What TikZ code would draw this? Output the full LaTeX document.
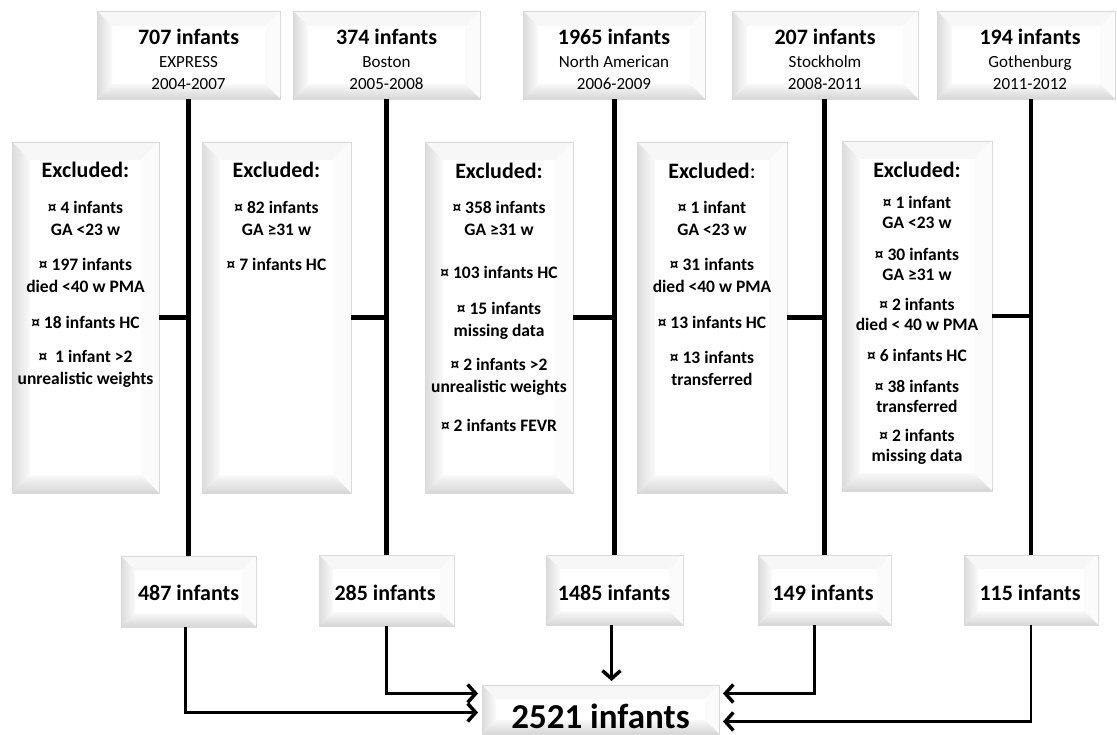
\documentclass[tikz,border=0pt]{standalone}
\usepackage{fontspec}
\setmainfont{Carlito}
\usetikzlibrary{arrows.meta,calc}
\tikzset{bev/.store in=\bevsz, bev=14pt}
\newcommand\mkbox[6]{\node[bevelbox, bev=#6pt, minimum width={(#4)-(#2)}, minimum height={(#5)-(#3)}] (#1) at ({((#2)+(#4))/2},{((#3)+(#5))/2}) {};}
\begin{document}
\begin{tikzpicture}[x=1pt,y=-1pt,
  bevelbox/.style={draw=gray!30, line width=0.9pt, fill=white, inner sep=0pt, outer sep=0pt,
    path picture={
      \fill[gray!6] let \p1=(path picture bounding box.north west), \p2=(path picture bounding box.south east) in
        (\x1,\y1) -- (\x2,\y1) -- ({\x2-\bevsz},{\y1-\bevsz}) -- ({\x1+\bevsz},{\y1-\bevsz}) -- cycle;
      \fill[gray!3] let \p1=(path picture bounding box.north west), \p2=(path picture bounding box.south east) in
        (\x2,\y1) -- (\x2,\y2) -- ({\x2-\bevsz},{\y2+\bevsz}) -- ({\x2-\bevsz},{\y1-\bevsz}) -- cycle;
      \shade[left color=gray!28, right color=gray!4] let \p1=(path picture bounding box.north west), \p2=(path picture bounding box.south east) in
        (\x1,\y1) -- ({\x1+\bevsz},{\y1-\bevsz}) -- ({\x1+\bevsz},{\y2+\bevsz}) -- (\x1,\y2) -- cycle;
      \shade[bottom color=gray!32, top color=gray!5] let \p1=(path picture bounding box.north west), \p2=(path picture bounding box.south east) in
        (\x1,\y2) -- ({\x1+\bevsz},{\y2+\bevsz}) -- ({\x2-\bevsz},{\y2+\bevsz}) -- (\x2,\y2) -- cycle;
    }},
  toptext/.style={align=center, inner sep=0pt, font=\fontsize{17}{22.5}\selectfont},
  extitle/.style={inner sep=0pt, font=\bfseries\fontsize{22}{24}\selectfont},
  exitem/.style={align=center, inner sep=0pt, font=\bfseries\fontsize{17.5}{22}\selectfont},
  exitemE/.style={align=center, inner sep=0pt, font=\bfseries\fontsize{17.5}{20}\selectfont},
  cnttext/.style={inner sep=0pt, font=\bfseries\fontsize{22}{24}\selectfont},
  fintext/.style={inner sep=0pt, font=\bfseries\fontsize{35}{38}\selectfont},
  trunk/.style={line width=4.5pt, black},
  branch/.style={line width=4.5pt, black},
  feed/.style={line width=2.5pt, black, shorten >=4pt, -{Straight Barb[length=8pt, width=18pt, line width=3.5pt]}},
]
\fill[white] (0,0) rectangle (1117,735);
\useasboundingbox (0,0) rectangle (1117,735);

% top boxes
\mkbox{t1}{97}{11}{280}{99}{15}
\mkbox{t2}{293}{11}{480}{99}{15}
\mkbox{t3}{523}{11}{705}{99}{15}
\mkbox{t4}{732}{11}{918}{99}{15}
\mkbox{t5}{937}{11}{1115}{99}{15}

% excluded boxes
\mkbox{eA}{12}{142}{159}{493}{18}
\mkbox{eB}{202}{142}{351}{493}{18}
\mkbox{eC}{425}{142}{573}{493}{18}
\mkbox{eD}{637}{142}{787}{493}{18}
\mkbox{eE}{842}{141}{992}{491}{18}

% result boxes
\mkbox{b1}{121}{556}{256}{627}{14}
\mkbox{b2}{319}{555}{454}{626}{14}
\mkbox{b3}{546}{555}{683}{625}{14}
\mkbox{b4}{758}{555}{891}{625}{14}
\mkbox{b5}{964}{555}{1098}{625}{14}
\mkbox{fin}{482}{685}{719}{734}{14}

% top texts
\node[toptext] (t1x) at (188.5,59.5) {{\bfseries\fontsize{22}{22.5}\selectfont 707 infants}\\EXPRESS\\2004-2007};
\node[toptext] (t2x) at (386.5,59.5) {{\bfseries\fontsize{22}{22.5}\selectfont 374 infants}\\Boston\\2005-2008};
\node[toptext] (t3x) at (614,59.5) {{\bfseries\fontsize{22}{22.5}\selectfont 1965 infants}\\North American\\2006-2009};
\node[toptext] (t4x) at (825,59.5) {{\bfseries\fontsize{22}{22.5}\selectfont 207 infants}\\Stockholm\\2008-2011};
\node[toptext] (t5x) at (1030,59.5) {{\bfseries\fontsize{22}{22.5}\selectfont 194 infants}\\Gothenburg\\2011-2012};

% excluded texts A
\node[extitle] (eAh) at (85.5,170) {Excluded:};
\node[exitem] (eA1) at (85.5,218) {¤ 4 infants\\GA <23 w};
\node[exitem] (eA2) at (85.5,275.5) {¤ 197 infants\\died <40 w PMA};
\node[exitem] (eA3) at (85.5,322) {¤ 18 infants HC};
\node[exitem] (eA4) at (85.5,369) {¤\ \ 1 infant >2\\unrealistic weights};
% B
\node[extitle] (eBh) at (276.5,170) {Excluded:};
\node[exitem] (eB1) at (276.5,218) {¤ 82 infants\\GA ≥31 w};
\node[exitem] (eB2) at (276.5,264) {¤ 7 infants HC};
% C
\node[extitle] (eCh) at (499,171) {Excluded:};
\node[exitem] (eC1) at (499,218) {¤ 358 infants\\GA ≥31 w};
\node[exitem] (eC2) at (499,272) {¤ 103 infants HC};
\node[exitem] (eC3) at (499,321) {¤ 15 infants\\missing data};
\node[exitem] (eC4) at (499,377) {¤ 2 infants >2\\unrealistic weights};
\node[exitem] (eC5) at (499,425) {¤ 2 infants FEVR};
% D
\node[extitle] (eDh) at (712,171) {Excluded{\mdseries :}};
\node[exitem] (eD1) at (712,218) {¤ 1 infant\\GA <23 w};
\node[exitem] (eD2) at (712,275.5) {¤ 31 infants\\died <40 w PMA};
\node[exitem] (eD3) at (712,322) {¤ 13 infants HC};
\node[exitem] (eD4) at (712,368.5) {¤ 13 infants\\transferred};
% E
\node[extitle] (eEh) at (917,170) {Excluded:};
\node[exitemE] (eE1) at (917,212) {¤ 1 infant\\GA <23 w};
\node[exitemE] (eE2) at (917,264) {¤ 30 infants\\GA ≥31 w};
\node[exitemE] (eE3) at (917,314.5) {¤ 2 infants\\died < 40 w PMA};
\node[exitemE] (eE4) at (917,355) {¤ 6 infants HC};
\node[exitemE] (eE5) at (917,396) {¤ 38 infants\\transferred};
\node[exitemE] (eE6) at (917,447) {¤ 2 infants\\missing data};

% counts
\node[cnttext] (b1x) at (188.5,593) {487 infants};
\node[cnttext] (b2x) at (385,593) {285 infants};
\node[cnttext] (b3x) at (614,593) {1485 infants};
\node[cnttext] (b4x) at (823,593) {149 infants};
\node[cnttext] (b5x) at (1030,593) {115 infants};
\node[fintext] (finx) at (600.5,716) {2521 infants};

% trunks
\draw[trunk] (t1.south -| b1.north) -- (b1.north);
\draw[trunk] (t2.south -| b2.north) -- (b2.north);
\draw[trunk] (t3.south -| b3.north) -- (b3.north);
\draw[trunk] (t4.south -| b4.north) -- (b4.north);
\draw[trunk] (t5.south -| b5.north) -- (b5.north);

% branches
\draw[branch] (eA.east) -- (eA.east -| b1.north);
\draw[branch] (eB.east) -- (eB.east -| b2.north);
\draw[branch] (eC.east) -- (eC.east -| b3.north);
\draw[branch] (eD.east) -- (eD.east -| b4.north);
\draw[branch] (eE.east) -- (eE.east -| b5.north);

% feeds
\draw[feed] ([xshift=-3pt]b1.south) |- ([yshift=-3pt]fin.west);
\draw[feed] (b2.south) |- ([yshift=16pt]fin.west);
\draw[feed] ([xshift=-3pt]b3.south) -- ([xshift=-3pt]b3.south |- fin.north);
\draw[feed] ([xshift=-10pt]b4.south) |- ([yshift=16pt]fin.east);
\draw[feed] (b5.south) |- ([yshift=-12pt]fin.east);
\end{tikzpicture}
\end{document}
